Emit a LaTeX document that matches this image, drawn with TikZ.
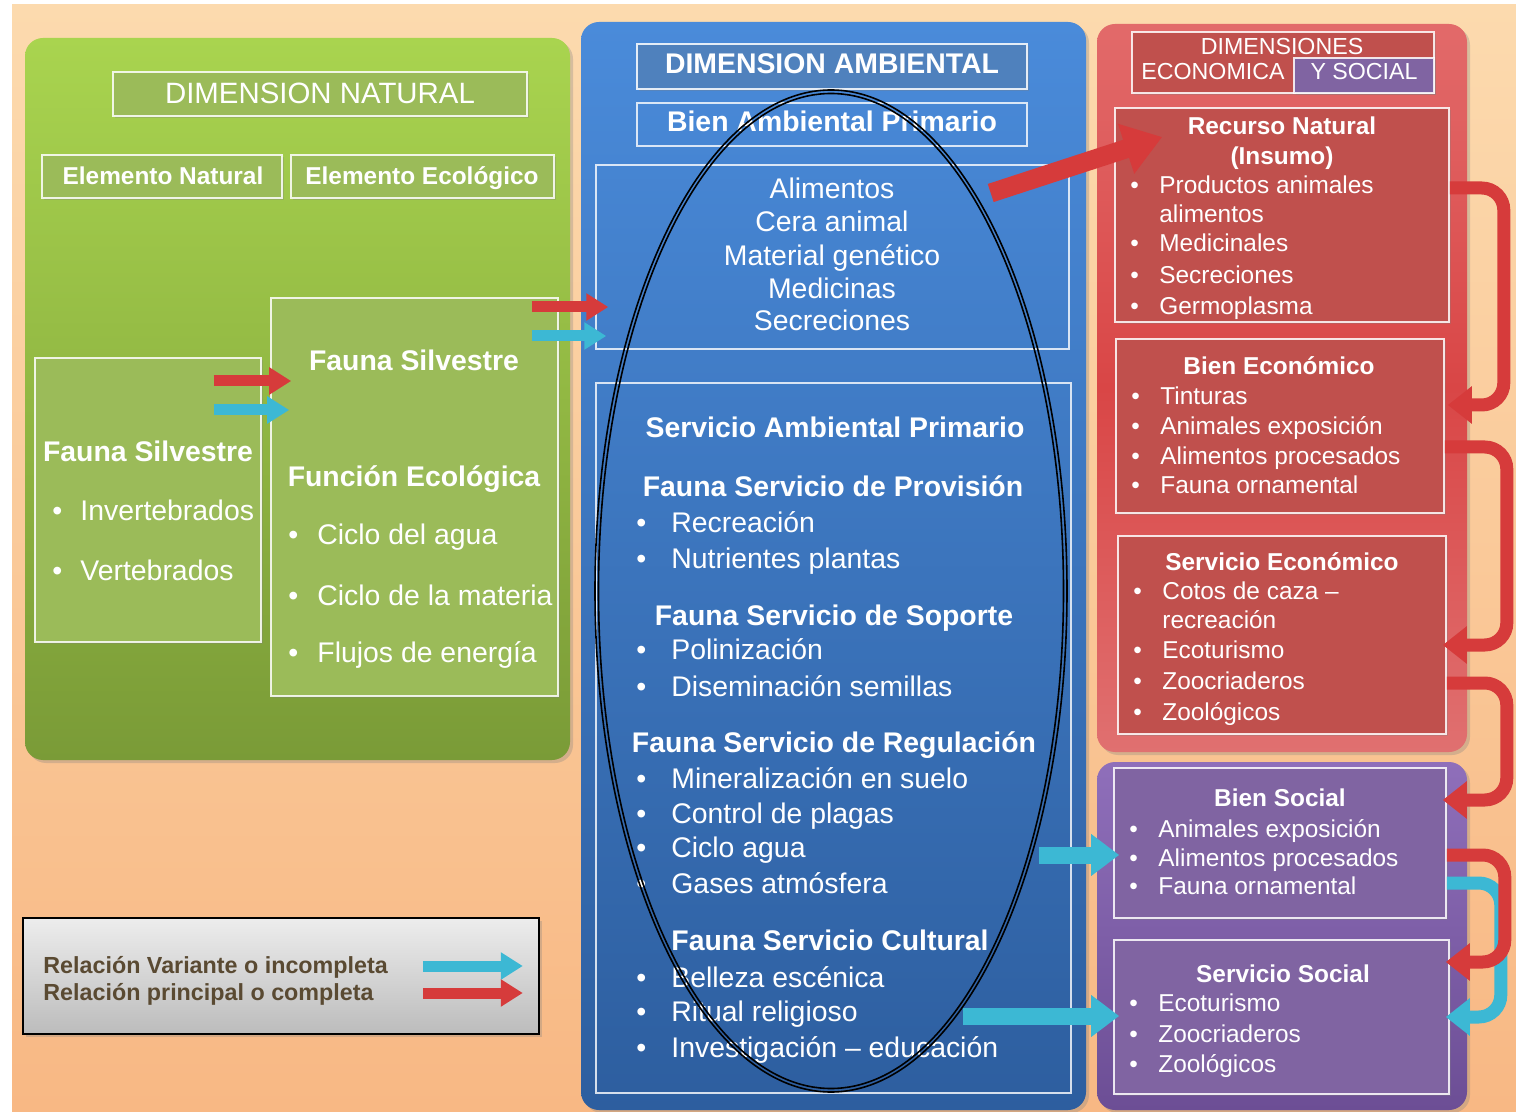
\documentclass[tikz,border=0pt]{standalone}
\usepackage{fontspec}
\setmainfont{Liberation Sans}
\usetikzlibrary{fit,shadows,arrows.meta,calc}
\definecolor{peachT}{HTML}{FCDAAE}
\definecolor{peachB}{HTML}{F8B884}
\definecolor{greenT}{HTML}{A9D44F}
\definecolor{greenB}{HTML}{7A9B37}
\definecolor{greenBox}{HTML}{9BBB59}
\definecolor{blueT}{HTML}{4A8BDA}
\definecolor{blueB}{HTML}{2D5E9F}
\definecolor{blueBox}{HTML}{4F81BD}
\definecolor{redT}{HTML}{E26A6A}
\definecolor{redM}{HTML}{D94646}
\definecolor{redB}{HTML}{E07070}
\definecolor{redBox}{HTML}{C0504D}
\definecolor{purT}{HTML}{8F6FBA}
\definecolor{purB}{HTML}{6C4E95}
\definecolor{purBox}{HTML}{8064A2}
\definecolor{arrRed}{HTML}{D63B3B}
\definecolor{arrBlue}{HTML}{3CB8D4}
\definecolor{legText}{HTML}{5A4A32}
\definecolor{legT}{HTML}{EDEDED}
\definecolor{legB}{HTML}{BCBCBC}
\newcommand\bul[2]{\makebox[#1][l]{\textbullet}#2}
\tikzset{
  panel/.style={rounded corners=9pt, inner sep=0pt, draw=none,
     drop shadow={shadow xshift=1.5pt, shadow yshift=-1.5pt, opacity=0.3}},
  sbox/.style={draw=white, draw opacity=0.85, line width=0.8pt, inner sep=0pt,
     drop shadow={shadow xshift=1.2pt, shadow yshift=-1.2pt, opacity=0.3}},
  obox/.style={draw=white, draw opacity=0.8, line width=0.7pt, inner sep=0pt},
  tc/.style={text=white, inner sep=0pt, anchor=base},
  tw/.style={text=white, inner sep=0pt, anchor=base west},
  fL/.style={font=\fontsize{14.2}{17}\selectfont},
  fLB/.style={font=\bfseries\fontsize{14.2}{17}\selectfont},
  fS/.style={font=\fontsize{12.2}{15}\selectfont},
  fSB/.style={font=\bfseries\fontsize{12.2}{15}\selectfont},
  fH/.style={font=\fontsize{11.6}{14}\selectfont},
  sarr/.style={line width=5.5pt, -{Triangle[length=11pt 0, width=13pt 0]}},
  barr/.style={line width=8.5pt, -{Triangle[length=14pt 0, width=20pt 0]}},
  tube/.style={line width=6.5pt, rounded corners=11pt, -{Triangle[length=12pt 0, width=18pt 0]}},
}
\begin{document}
\begin{tikzpicture}[x=0.5pt,y=-0.5pt]
\useasboundingbox (0,0) rectangle (1516,1112);
\fill[white] (0,0) rectangle (1516,1112);
\node[inner sep=0pt, draw=none, sharp corners, top color=peachT, bottom color=peachB, fit={(12,5) (1516,1112)}] (bg) {};
% panels
\node[panel, top color=greenT, bottom color=greenB, fit={(25,38) (570,760)}] (pG) {};
\node[panel, top color=blueT, bottom color=blueB, fit={(581,22) (1086,1110)}] (pB) {};
\node[panel, top color=redT, bottom color=redB, middle color=redM, fit={(1097,24) (1467,752)}] (pR) {};
\node[panel, top color=purT, bottom color=purB, fit={(1097,762) (1467,1110)}] (pP) {};
% green
\node[sbox, fill=greenBox, fit={(113,72) (527,116)}] (dn) {};
\node[tc, font=\fontsize{14.7}{17}\selectfont] (dnT) at (320,104) {DIMENSION NATURAL};
\node[sbox, fill=greenBox, fit={(42,155) (282,198)}] (en) {};
\node[tc, fSB] (enT) at (163,185) {Elemento Natural};
\node[sbox, fill=greenBox, fit={(291,155) (554,198)}] (ee) {};
\node[tc, fSB] (eeT) at (422,185) {Elemento Ecológico};
\node[sbox, fill=greenBox, fit={(35,358) (261,642)}] (fsL) {};
\node[tc, fLB] (fsLT) at (148,462) {Fauna Silvestre};
\node[tw, fL] (fsL1) at (52,521) {\bul{14pt}{Invertebrados}};
\node[tw, fL] (fsL2) at (52,581) {\bul{14pt}{Vertebrados}};
\node[sbox, fill=greenBox, fit={(271,298) (558,696)}] (fsR) {};
\node[tc, fLB] (fsRT) at (414,371) {Fauna Silvestre};
\node[tc, fLB] (feT) at (414,487) {Función Ecológica};
\node[tw, fL] (fe1) at (288,545) {\bul{14.5pt}{Ciclo del agua}};
\node[tw, fL] (fe2) at (288,605) {\bul{14.5pt}{Ciclo de la materia}};
\node[tw, fL] (fe3) at (288,662) {\bul{14.5pt}{Flujos de energía}};
% blue
\node[sbox, fill=blueBox, fit={(637,44) (1027,89)}] (da) {};
\node[tc, fLB] (daT) at (832,74) {DIMENSION AMBIENTAL};
\node[obox, fit={(637,103) (1027,146)}] (bap) {};
\node[tc, fLB] (bapT) at (832,132) {Bien Ambiental Primario};
\node[obox, fit={(596,165) (1069,349)}] (al) {};
\node[tc, fL] (al1) at (832,199) {Alimentos};
\node[tc, fL] (al2) at (832,232) {Cera animal};
\node[tc, fL] (al3) at (832,266) {Material genético};
\node[tc, fL] (al4) at (832,299) {Medicinas};
\node[tc, fL] (al5) at (832,331) {Secreciones};
\node[obox, fit={(596,383) (1071,1093)}] (sv) {};
\node[tc, fLB] (sv0) at (835,438) {Servicio Ambiental Primario};
\node[tc, fLB] (sv1) at (833,497) {Fauna Servicio de Provisión};
\node[tw, fL] (sv1a) at (636,532) {\bul{17.5pt}{Recreación}};
\node[tw, fL] (sv1b) at (636,568) {\bul{17.5pt}{Nutrientes plantas}};
\node[tc, fLB] (sv2) at (834,625) {Fauna Servicio de Soporte};
\node[tw, fL] (sv2a) at (636,659) {\bul{17.5pt}{Polinización}};
\node[tw, fL] (sv2b) at (636,696) {\bul{17.5pt}{Diseminación semillas}};
\node[tc, fLB] (sv3) at (834,752) {Fauna Servicio de Regulación};
\node[tw, fL] (sv3a) at (636,788) {\bul{17.5pt}{Mineralización en suelo}};
\node[tw, fL] (sv3b) at (636,823) {\bul{17.5pt}{Control de plagas}};
\node[tw, fL] (sv3c) at (636,857) {\bul{17.5pt}{Ciclo agua}};
\node[tw, fL] (sv3d) at (636,893) {\bul{17.5pt}{Gases atmósfera}};
\node[tw, fLB] (sv4) at (671,950) {Fauna Servicio Cultural};
\node[tw, fL] (sv4a) at (636,987) {\bul{17.5pt}{Belleza escénica}};
\node[tw, fL] (sv4b) at (636,1021) {\bul{17.5pt}{Ritual religioso}};
\node[tw, fL] (sv4c) at (636,1057) {\bul{17.5pt}{Investigación – educación}};
% red
\node[sbox, fill=redBox, fit={(1132,32) (1434,93)}] (hd) {};
\node[sbox, fill=purBox, fit={(1294,58) (1434,93)}] (hdp) {};
\node[tc, fH] (hd1) at (1282,55) {DIMENSIONES};
\node[tc, fH] (hd2) at (1213,80) {ECONOMICA};
\node[tc, fH] (hd3) at (1364,80) {Y SOCIAL};
\node[sbox, fill=redBox, fit={(1115,108) (1449,322)}] (rn) {};
\node[tc, fSB] (rnT) at (1282,135) {Recurso Natural};
\node[tc, fSB] (rnT2) at (1282,165) {(Insumo)};
\node[tw, fS] (rn1) at (1130,194) {\bul{14.5pt}{Productos animales}};
\node[tw, fS] (rn1b) at (1159,223) {alimentos};
\node[tw, fS] (rn2) at (1130,252) {\bul{14.5pt}{Medicinales}};
\node[tw, fS] (rn3) at (1130,284) {\bul{14.5pt}{Secreciones}};
\node[tw, fS] (rn4) at (1130,315) {\bul{14.5pt}{Germoplasma}};
\node[sbox, fill=redBox, fit={(1116,339) (1444,513)}] (be) {};
\node[tc, fSB] (beT) at (1279,375) {Bien Económico};
\node[tw, fS] (be1) at (1131,405) {\bul{14.5pt}{Tinturas}};
\node[tw, fS] (be2) at (1131,435) {\bul{14.5pt}{Animales exposición}};
\node[tw, fS] (be3) at (1131,465) {\bul{14.5pt}{Alimentos procesados}};
\node[tw, fS] (be4) at (1131,494) {\bul{14.5pt}{Fauna ornamental}};
\node[sbox, fill=redBox, fit={(1118,536) (1446,734)}] (se) {};
\node[tc, fSB] (seT) at (1282,570) {Servicio Económico};
\node[tw, fS] (se1) at (1133,599) {\bul{14.5pt}{Cotos de caza –}};
\node[tw, fS] (se1b) at (1162,628) {recreación};
\node[tw, fS] (se2) at (1133,658) {\bul{14.5pt}{Ecoturismo}};
\node[tw, fS] (se3) at (1133,689) {\bul{14.5pt}{Zoocriaderos}};
\node[tw, fS] (se4) at (1133,720) {\bul{14.5pt}{Zoológicos}};
% purple
\node[sbox, fill=purBox, fit={(1114,768) (1446,918)}] (bs) {};
\node[tc, fSB] (bsT) at (1280,806) {Bien Social};
\node[tw, fS] (bs1) at (1129,837) {\bul{14.5pt}{Animales exposición}};
\node[tw, fS] (bs2) at (1129,866) {\bul{14.5pt}{Alimentos procesados}};
\node[tw, fS] (bs3) at (1129,894) {\bul{14.5pt}{Fauna ornamental}};
\node[sbox, fill=purBox, fit={(1114,940) (1449,1094)}] (ss) {};
\node[tc, fSB] (ssT) at (1283,982) {Servicio Social};
\node[tw, fS] (ss1) at (1129,1011) {\bul{14.5pt}{Ecoturismo}};
\node[tw, fS] (ss2) at (1129,1042) {\bul{14.5pt}{Zoocriaderos}};
\node[tw, fS] (ss3) at (1129,1072) {\bul{14.5pt}{Zoológicos}};
% legend
\node[draw=black, line width=0.8pt, top color=legT, bottom color=legB, inner sep=0pt,
      fit={(23,918) (539,1034)}, drop shadow={shadow xshift=1.5pt, shadow yshift=-1.5pt, opacity=0.3}] (lg) {};
\node[anchor=base west, inner sep=0pt, text=legText, font=\bfseries\fontsize{11.65}{13}\selectfont] (lg1) at (43,973) {Relación Variante o incompleta};
\node[anchor=base west, inner sep=0pt, text=legText, font=\bfseries\fontsize{11.65}{13}\selectfont] (lg2) at (43,1000) {Relación principal o completa};
% ellipse
\draw[line width=0.8pt] (831,591) ellipse [x radius=236, y radius=501];
\draw[line width=0.8pt] (831,591) ellipse [x radius=232.5, y radius=497.5];
% arrows
\draw[sarr, draw=arrRed] ($(fsL.east|-0,381)+(-48,0)$) -- ($(fsR.west|-0,381)+(21,0)$);
\draw[sarr, draw=arrBlue] ($(fsL.east|-0,410)+(-48,0)$) -- ($(fsR.west|-0,410)+(19,0)$);
\draw[sarr, draw=arrRed] ($(fsR.east|-0,307)+(-27,0)$) -- ($(al.west|-0,307)+(13,0)$);
\draw[sarr, draw=arrBlue] ($(fsR.east|-0,336)+(-27,0)$) -- ($(al.west|-0,336)+(11,0)$);
\draw[draw=arrRed, line width=9.5pt, -{Triangle[length=19pt 0, width=25pt 0]}] ($(al.east|-0,193)+(-79,0)$) -- ($(rn.west|-0,137)+(48,0)$);
\draw[barr, draw=arrBlue] ($(sv.east|-0,855)+(-33,0)$) -- ($(bs.west|-0,855)+(6,0)$);
\draw[barr, draw=arrBlue] ($(sv.east|-0,1016)+(-109,0)$) -- ($(ss.west|-0,1016)+(6,0)$);
\draw[sarr, draw=arrBlue] ($(lg.east|-0,966)+(-117,0)$) -- ($(lg.east|-0,966)+(-17,0)$);
\draw[sarr, draw=arrRed] ($(lg.east|-0,993)+(-117,0)$) -- ($(lg.east|-0,993)+(-17,0)$);
% bracket arrows
\draw[tube, draw=arrRed] (rn.east|-0,188) -- ++(54,0) |- ($(be.east|-0,405)+(3,0)$);
\draw[tube, draw=arrRed] (be.east|-0,447) -- ++(62,0) |- ($(se.east|-0,645)+(-4,0)$);
\draw[tube, draw=arrRed] (se.east|-0,683) -- ++(60,0) |- ($(bs.east|-0,800)+(-4,0)$);
\draw[tube, draw=arrBlue] (bs.east|-0,883) -- ++(54,0) |- ($(ss.east|-0,1017)+(-4,0)$);
\draw[tube, draw=arrRed] (bs.east|-0,855) -- ++(58,0) |- ($(ss.east|-0,962)+(-4,0)$);
\end{tikzpicture}
\end{document}
